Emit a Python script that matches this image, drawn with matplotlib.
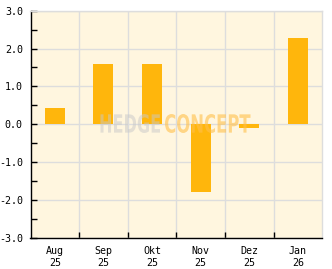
import matplotlib
matplotlib.use("Agg")
import matplotlib.pyplot as plt
from matplotlib.ticker import MultipleLocator, FixedLocator
from matplotlib.textpath import TextPath
from matplotlib.patches import PathPatch
from matplotlib.font_manager import FontProperties
from matplotlib.transforms import Affine2D, IdentityTransform

months = ["Aug", "Sep", "Okt", "Nov", "Dez", "Jan"]
years = ["25", "25", "25", "25", "25", "26"]
values = [0.43, 1.59, 1.59, -1.78, -0.10, 2.28]

bg = "#FFF6DF"
bar_color = "#FFB60C"
grid_color = "#DDDDDD"

W, H = 332, 269
fig = plt.figure(figsize=(W/100, H/100), dpi=100)
ax = fig.add_axes([30.5/W, 1-237.7/H, (322.3-30.5)/W, (237.7-10.7)/H])
ax.set_facecolor(bg)

x = list(range(len(values)))
ax.bar(x, values, width=0.41, color=bar_color, zorder=3)

ax.set_xlim(-0.5, len(values)-0.5)
ax.set_ylim(-3, 3)

labels = [f"{m}\n{y}" for m, y in zip(months, years)]
ax.set_xticks(x)
ax.set_xticklabels(labels, fontfamily="DejaVu Sans Mono", fontsize=7.2, linespacing=1.25)
ax.xaxis.set_minor_locator(FixedLocator([i + 0.5 for i in range(len(values)-1)]))
ax.tick_params(axis="x", which="major", length=0, pad=6)
ax.tick_params(axis="x", which="minor", length=4, direction="in", width=1, color="black")

ax.yaxis.set_minor_locator(MultipleLocator(0.5))
yt = [-3, -2, -1, 0, 1, 2, 3]
ax.set_yticks(yt)
ax.set_yticklabels([f"{v:.1f}" for v in yt], fontfamily="DejaVu Sans Mono", fontsize=7.2)
ax.tick_params(axis="y", which="both", length=4, direction="in", width=1, color="black", pad=5.5)

ax.grid(True, axis="y", which="major", color=grid_color, linewidth=1, zorder=1)
ax.grid(True, axis="x", which="minor", color=grid_color, linewidth=1, zorder=1)
ax.set_axisbelow(True)

for s in ["top", "right"]:
    ax.spines[s].set_color(grid_color)
    ax.spines[s].set_linewidth(1)
for s in ["left", "bottom"]:
    ax.spines[s].set_color("black")
    ax.spines[s].set_linewidth(1)

# watermark drawn as text paths fitted to a pixel box
fp = FontProperties(family="DejaVu Sans", weight="bold")

def watermark(s, x0, x1, ytop, ybot, color, alpha):
    tp = TextPath((0, 0), s, size=10, prop=fp)
    ext = tp.get_extents()
    sx = (x1 - x0) / ext.width
    sy = (ybot - ytop) / ext.height
    tr = (Affine2D().translate(-ext.x0, -ext.y0).scale(sx, sy)
          .translate(x0, H - ybot))
    path = tr.transform_path(tp)
    fig.add_artist(PathPatch(path, facecolor=color, edgecolor="none", alpha=alpha,
                             transform=IdentityTransform(), zorder=10))

watermark("HEDGE", 100.5, 160, 114, 133, "#C8C8C8", 0.5)
watermark("CONCEPT", 165, 250.5, 114, 133, "#FFC04A", 0.6)

fig.savefig("out.png", dpi=100, facecolor="white")
